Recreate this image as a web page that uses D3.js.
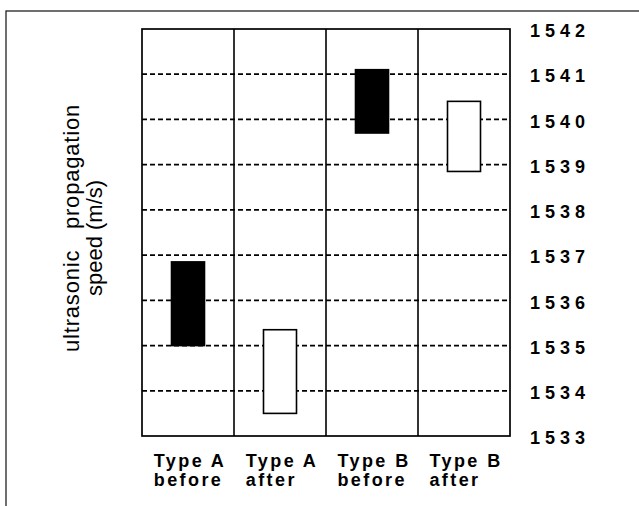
<!DOCTYPE html>
<html>
<head>
<meta charset="utf-8">
<title>ultrasonic propagation speed</title>
<script src="https://d3js.org/d3.v7.min.js"></script>
<style>
  body { margin: 0; background: #fff; }
  svg { display: block; }
  .tick-label { font-family: "Liberation Sans", Arial, sans-serif; font-weight: bold; font-size: 18px; letter-spacing: 5px; }
  .cat-label { font-family: "Liberation Sans", Arial, sans-serif; font-weight: bold; font-size: 18px; letter-spacing: 2.4px; }
  .y-title { font-family: "Liberation Sans", Arial, sans-serif; font-size: 22px; white-space: pre; }
</style>
</head>
<body>
<div id="chart"></div>
<script>
// data
var groups = ["Type A", "Type A", "Type B", "Type B"];
var stages = ["before", "after", "before", "after"];
var lows = [1535.0, 1533.5, 1539.7, 1538.85];
var highs = [1536.85, 1535.35, 1541.1, 1540.4];
var yTicks = [1533, 1534, 1535, 1536, 1537, 1538, 1539, 1540, 1541, 1542];

var width = 639, height = 506;
var plot = { left: 142, right: 510, top: 29, bottom: 436 };

var svg = d3.select("#chart").append("svg")
    .attr("width", width)
    .attr("height", height);

// outer frame (runs off the right and bottom edge)
svg.append("rect")
    .attr("x", 6).attr("y", 11)
    .attr("width", 700).attr("height", 600)
    .attr("fill", "none")
    .attr("stroke", "#222")
    .attr("stroke-width", 1.3);

var idx = groups.map(function (d, i) { return i; });

var x = d3.scaleBand()
    .domain(idx)
    .range([plot.left, plot.right])
    .paddingInner(0);

var y = d3.scaleLinear()
    .domain([d3.min(yTicks), d3.max(yTicks)])
    .range([plot.bottom, plot.top]);

// dashed grid lines (inner ticks only)
svg.append("g")
    .selectAll("line")
    .data(yTicks.slice(1, -1))
    .enter().append("line")
    .attr("x1", plot.left)
    .attr("x2", plot.right)
    .attr("y1", function (d) { return y(d); })
    .attr("y2", function (d) { return y(d); })
    .attr("stroke", "#000")
    .attr("stroke-width", 1.7)
    .attr("stroke-dasharray", "5,3");

// bars
var barW = 33;
svg.append("g")
    .selectAll("rect")
    .data(idx)
    .enter().append("rect")
    .attr("x", function (i) { return x(i) + x.bandwidth() / 2 - barW / 2; })
    .attr("width", barW)
    .attr("y", function (i) { return y(highs[i]); })
    .attr("height", function (i) { return y(lows[i]) - y(highs[i]); })
    .attr("fill", function (i) { return stages[i] === "before" ? "#000" : "#fff"; })
    .attr("stroke", "#000")
    .attr("stroke-width", 1.6);

// column dividers
svg.append("g")
    .selectAll("line")
    .data(idx.slice(1))
    .enter().append("line")
    .attr("x1", function (i) { return x(i); })
    .attr("x2", function (i) { return x(i); })
    .attr("y1", plot.top)
    .attr("y2", plot.bottom)
    .attr("stroke", "#000")
    .attr("stroke-width", 1.6);

// plot border
svg.append("rect")
    .attr("x", plot.left).attr("y", plot.top)
    .attr("width", plot.right - plot.left)
    .attr("height", plot.bottom - plot.top)
    .attr("fill", "none")
    .attr("stroke", "#000")
    .attr("stroke-width", 1.7);

// right side tick labels
var yAxis = d3.axisRight(y)
    .tickValues(yTicks)
    .tickFormat(d3.format("d"))
    .tickSize(0)
    .tickPadding(20);

var ax = svg.append("g")
    .attr("transform", "translate(" + plot.right + ",2)")
    .call(yAxis);
ax.select(".domain").remove();
ax.attr("font-family", null).attr("font-size", null);
ax.selectAll("text")
    .attr("class", "tick-label")
    .attr("fill", "#000");

// category labels, two lines, left edges lined up
var cats = svg.append("g").selectAll("text")
    .data(idx)
    .enter().append("text")
    .attr("class", "cat-label")
    .attr("fill", "#000");
cats.append("tspan")
    .attr("y", 467)
    .text(function (i) { return groups[i]; });
cats.append("tspan")
    .attr("y", 486)
    .text(function (i) { return stages[i]; });
cats.each(function (i) {
    var w = this.firstChild.getComputedTextLength();
    var cx = x(i) + x.bandwidth() / 2 + 2;
    d3.select(this).selectAll("tspan").attr("x", cx - w / 2);
});

// y axis title
svg.append("text")
    .attr("class", "y-title")
    .attr("text-anchor", "middle")
    .attr("letter-spacing", "0.8px")
    .attr("transform", "translate(79,228) rotate(-90)")
    .text("ultrasonic   propagation");
svg.append("text")
    .attr("class", "y-title")
    .attr("text-anchor", "middle")
    .attr("transform", "translate(102,238) rotate(-90)")
    .text("speed (m/s)");
</script>
</body>
</html>
